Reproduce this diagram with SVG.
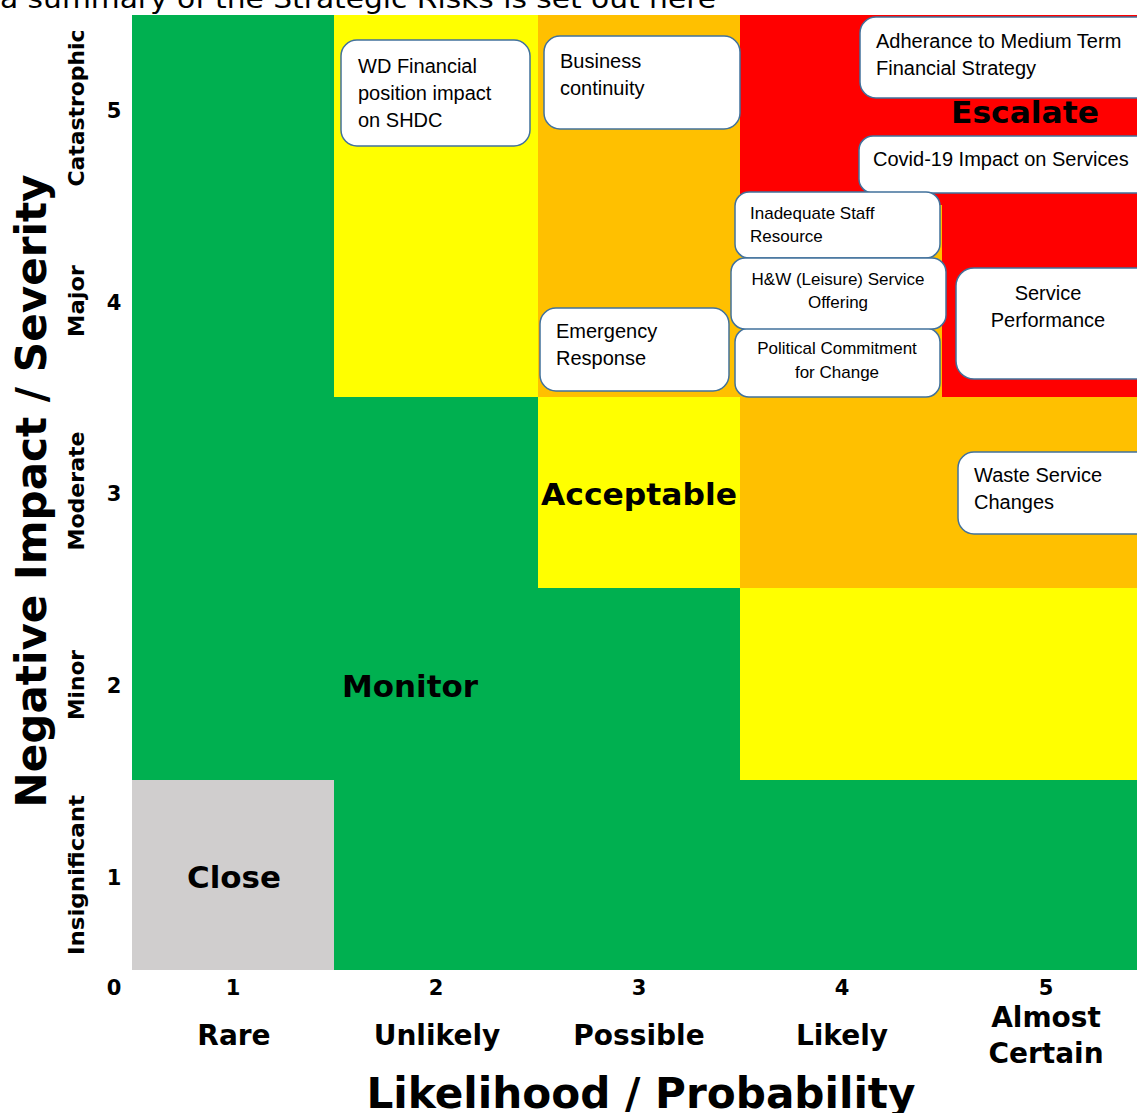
<svg xmlns="http://www.w3.org/2000/svg" width="1137" height="1113" viewBox="0 0 1137 1113">
<style>
.g{fill:#00B050}.y{fill:#FFFF00}.o{fill:#FFC000}.r{fill:#FF0000}.gr{fill:#D0CECE}
.v{font-family:"DejaVu Sans",Verdana,sans-serif;font-weight:bold;fill:#000}
.box rect{fill:#fff;stroke:#41719C;stroke-width:1.5}
.box text{font-family:"Liberation Sans",Arial,sans-serif;font-size:20px;fill:#000}
.box text.s{font-size:17px}
.zone{font-size:30px}
.num{font-size:21px;text-anchor:middle}
.rl{font-size:21px;text-anchor:middle}
.cl{font-size:28px;text-anchor:middle}
</style>
<rect width="1137" height="1113" fill="#fff"/>
<text x="0" y="8" font-family="'DejaVu Sans',Verdana,sans-serif" font-size="26" textLength="716" lengthAdjust="spacingAndGlyphs">a summary of the Strategic Risks is set out here</text>
<g id="grid">
<rect class="g" x="132" y="15" width="1005" height="955"/>
<rect class="y" x="334" y="15" width="204" height="382"/>
<rect class="o" x="538" y="15" width="202" height="382"/>
<rect class="r" x="740" y="15" width="397" height="190"/>
<rect class="o" x="740" y="205" width="202" height="192"/>
<rect class="r" x="942" y="205" width="195" height="192"/>
<rect class="y" x="538" y="397" width="202" height="191"/>
<rect class="o" x="740" y="397" width="397" height="191"/>
<rect class="y" x="740" y="588" width="397" height="192"/>
<rect class="gr" x="132" y="780" width="202" height="190"/>
</g>
<g id="zones" class="v">
<text class="zone" x="1025" y="123" text-anchor="middle" textLength="148" lengthAdjust="spacingAndGlyphs">Escalate</text>
<text class="zone" x="541" y="505" textLength="196" lengthAdjust="spacingAndGlyphs">Acceptable</text>
<text class="zone" x="342" y="697" textLength="136" lengthAdjust="spacingAndGlyphs">Monitor</text>
<text class="zone" x="187" y="888" textLength="94" lengthAdjust="spacingAndGlyphs">Close</text>
</g>
<g id="connectors"/>
<g id="n-wd" class="box"><rect x="341" y="40" width="189" height="106" rx="16"/><text x="358" y="73">WD Financial</text><text x="358" y="100">position impact</text><text x="358" y="127">on SHDC</text></g>
<g id="n-business" class="box"><rect x="544" y="36" width="196" height="93" rx="16"/><text x="560" y="68">Business</text><text x="560" y="95">continuity</text></g>
<g id="n-adherance" class="box"><rect x="860" y="17" width="295" height="81" rx="16"/><text x="876" y="48">Adherance to Medium Term</text><text x="876" y="75">Financial Strategy</text></g>
<g id="n-covid" class="box"><rect x="859" y="136" width="295" height="57" rx="14"/><text x="873" y="166">Covid-19 Impact on Services</text></g>
<g id="n-staff" class="box"><rect x="735" y="192" width="205" height="66" rx="14"/><text class="s" x="750" y="219">Inadequate Staff</text><text class="s" x="750" y="242">Resource</text></g>
<g id="n-political" class="box"><rect x="735" y="328" width="205" height="69" rx="14"/><text class="s" x="837" y="354" text-anchor="middle">Political Commitment</text><text class="s" x="837" y="378" text-anchor="middle">for Change</text></g>
<g id="n-hw" class="box"><rect x="731" y="258" width="215" height="71" rx="14"/><text class="s" x="838" y="285" text-anchor="middle">H&amp;W (Leisure) Service</text><text class="s" x="838" y="308" text-anchor="middle">Offering</text></g>
<g id="n-emergency" class="box"><rect x="540" y="308" width="189" height="83" rx="16"/><text x="556" y="338">Emergency</text><text x="556" y="365">Response</text></g>
<g id="n-service" class="box"><rect x="956" y="268" width="200" height="111" rx="18"/><text x="1048" y="300" text-anchor="middle">Service</text><text x="1048" y="327" text-anchor="middle">Performance</text></g>
<g id="n-waste" class="box"><rect x="958" y="452" width="200" height="82" rx="16"/><text x="974" y="482">Waste Service</text><text x="974" y="509">Changes</text></g>
<g id="axes" class="v">
<text font-size="42" text-anchor="middle" transform="translate(46,491) rotate(-90)" textLength="633" lengthAdjust="spacingAndGlyphs">Negative Impact / Severity</text>
<text font-size="42" x="641" y="1108" text-anchor="middle" textLength="549" lengthAdjust="spacingAndGlyphs">Likelihood / Probability</text>
<text class="rl" transform="translate(84,108) rotate(-90)" textLength="157" lengthAdjust="spacingAndGlyphs">Catastrophic</text>
<text class="rl" transform="translate(84,301) rotate(-90)" textLength="72" lengthAdjust="spacingAndGlyphs">Major</text>
<text class="rl" transform="translate(84,491) rotate(-90)" textLength="119" lengthAdjust="spacingAndGlyphs">Moderate</text>
<text class="rl" transform="translate(84,685) rotate(-90)" textLength="70" lengthAdjust="spacingAndGlyphs">Minor</text>
<text class="rl" transform="translate(84,875) rotate(-90)" textLength="160" lengthAdjust="spacingAndGlyphs">Insignificant</text>
<text class="num" x="114" y="118">5</text>
<text class="num" x="114" y="310">4</text>
<text class="num" x="114" y="501">3</text>
<text class="num" x="114" y="693">2</text>
<text class="num" x="114" y="885">1</text>
<text class="num" x="114" y="995">0</text>
<text class="num" x="233" y="995">1</text>
<text class="num" x="436" y="995">2</text>
<text class="num" x="639" y="995">3</text>
<text class="num" x="842" y="995">4</text>
<text class="num" x="1046" y="995">5</text>
<text class="cl" x="234" y="1045">Rare</text>
<text class="cl" x="437" y="1045">Unlikely</text>
<text class="cl" x="639" y="1045">Possible</text>
<text class="cl" x="842" y="1045">Likely</text>
<text class="cl" x="1046" y="1027">Almost</text>
<text class="cl" x="1046" y="1063">Certain</text>
</g>
</svg>
